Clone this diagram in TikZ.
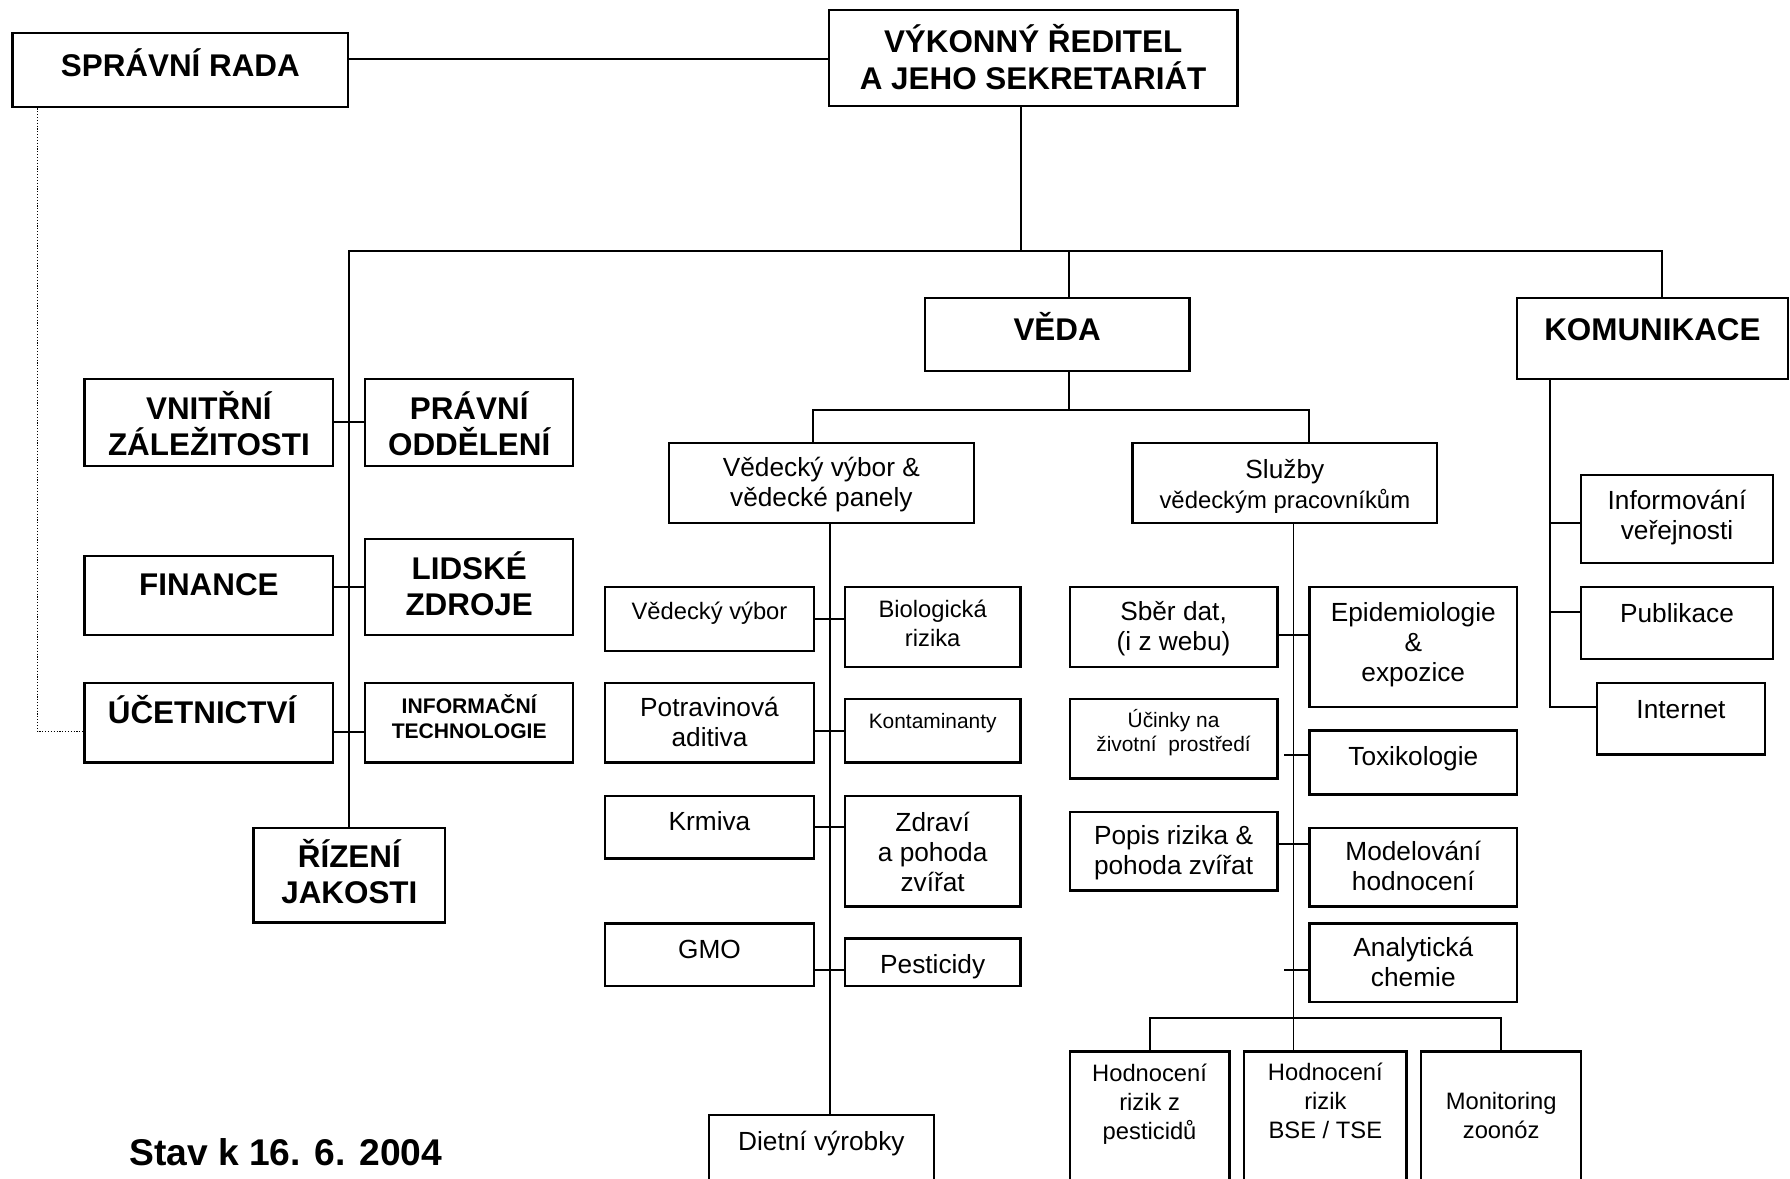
\documentclass[tikz,border=0pt]{standalone}
\usepackage{fontspec}
\setmainfont{Liberation Sans}
\tikzset{
        box/.style={draw, line width=2pt, inner sep=0pt},
        link/.style={line width=1.6pt},
        head/.style={inner sep=0pt, align=center, font=\fontsize{27.5}{32}\selectfont\bfseries},
        headsmall/.style={inner sep=0pt, align=center, font=\fontsize{18.5}{22}\selectfont\bfseries},
        txt/.style={inner sep=0pt, align=center, font=\fontsize{23}{26.3}\selectfont},
        txtsmall/.style={inner sep=0pt, align=center, font=\fontsize{20.8}{25.5}\selectfont},
        txttiny/.style={inner sep=0pt, align=center, font=\fontsize{18.3}{21}\selectfont}
    }

\begin{document}
\begin{tikzpicture}[x=1pt, y=-1pt]
            \useasboundingbox (0,0) rectangle (1568,1032);

            % vedeni
            \node [box, minimum width=294, minimum height=65] (spravni) at (158, 61.5) {};
            \node [box, minimum width=358, minimum height=84] (vykonny) at (905, 51) {};
            \node [box, minimum width=232, minimum height=64] (veda) at (926, 293) {};
            \node [box, minimum width=237, minimum height=71] (komunikace) at (1447.5, 296.5) {};
            \node [head, anchor=base] (spravni-t) at (158, 67) {SPRÁVNÍ RADA};
            \node [head] (vykonny-t) at (905, 50) {VÝKONNÝ ŘEDITEL\\A JEHO SEKRETARIÁT};
            \node [head, anchor=base] (veda-t) at (926, 298) {VĚDA};
            \node [head, anchor=base] (komunikace-t) at (1447.5, 298) {KOMUNIKACE};

            % sprava
            \node [box, minimum width=218, minimum height=76] (vnitrni) at (183, 370) {};
            \node [box, minimum width=182, minimum height=76] (pravni) at (411, 370) {};
            \node [box, minimum width=218, minimum height=69] (finance) at (183, 521.5) {};
            \node [box, minimum width=182, minimum height=84] (lidske) at (411, 514) {};
            \node [box, minimum width=218, minimum height=70] (ucetnictvi) at (183, 633) {};
            \node [box, minimum width=182, minimum height=70] (infotech) at (411, 633) {};
            \node [box, minimum width=168, minimum height=83] (rizeni) at (306, 766.5) {};
            \node [head] (vnitrni-t) at (183, 371) {VNITŘNÍ\\ZÁLEŽITOSTI};
            \node [head] (pravni-t) at (411, 371) {PRÁVNÍ\\ODDĚLENÍ};
            \node [head, anchor=base] (finance-t) at (183, 522) {FINANCE};
            \node [head] (lidske-t) at (411, 511.5) {LIDSKÉ\\ZDROJE};
            \node [head, anchor=base] (ucetnictvi-t) at (177, 633.5) {ÚČETNICTVÍ};
            \node [headsmall] (infotech-t) at (411, 627.5) {INFORMAČNÍ\\TECHNOLOGIE};
            \node [head] (rizeni-t) at (306, 763.5) {ŘÍZENÍ\\JAKOSTI};
            \node [head, anchor=base west] (stav) at (113, 1021) {\fontsize{32.6}{36}\selectfont Stav k 16. 6. 2004};

            % veda
            \node [box, minimum width=267, minimum height=70] (vvpanely) at (719.5, 423) {};
            \node [box, minimum width=267, minimum height=70] (sluzby) at (1125.5, 423) {};
            \node [txt] (vvpanely-t) at (719.5, 424.5) {Vědecký výbor \&\\vědecké panely};
            \node [txt] (sluzby-t) at (1125.5, 426) {Služby\\{\fontsize{20.9}{24}\selectfont vědeckým pracovníkům}};

            \node [box, minimum width=183, minimum height=56] (vvybor) at (621.5, 542) {};
            \node [box, minimum width=154, minimum height=70] (bio) at (817, 549) {};
            \node [box, minimum width=183, minimum height=70] (potrav) at (621.5, 633) {};
            \node [box, minimum width=154, minimum height=56] (kontam) at (817, 640) {};
            \node [box, minimum width=183, minimum height=55] (krmiva) at (621.5, 724.5) {};
            \node [box, minimum width=154, minimum height=97] (zdravi) at (817, 745.5) {};
            \node [box, minimum width=183, minimum height=55] (gmo) at (621.5, 836.5) {};
            \node [box, minimum width=154, minimum height=42] (pesticidy) at (817, 843) {};
            \node [box, minimum width=197, minimum height=83] (dietni) at (719.5, 1018.5) {};
            \node [txtsmall, anchor=base] (vvybor-t) at (621.5, 543) {Vědecký výbor};
            \node [txtsmall] (bio-t) at (817, 546) {Biologická\\rizika};
            \node [txt] (potrav-t) at (621.5, 632.5) {Potravinová\\aditiva};
            \node [txttiny, anchor=base] (kontam-t) at (817, 638.5) {Kontaminanty};
            \node [txt, anchor=base] (krmiva-t) at (621.5, 727.5) {Krmiva};
            \node [txt] (zdravi-t) at (817, 746) {Zdraví\\a pohoda\\zvířat};
            \node [txt, anchor=base] (gmo-t) at (621.5, 839.5) {GMO};
            \node [txt, anchor=base] (pesticidy-t) at (817, 852.5) {Pesticidy};
            \node [txt, anchor=base] (dietni-t) at (719.5, 1008) {Dietní výrobky};

            \node [box, minimum width=182, minimum height=70] (sber) at (1028, 549) {};
            \node [box, minimum width=182, minimum height=70] (ucinky) at (1028, 647) {};
            \node [box, minimum width=182, minimum height=69] (popis) at (1028, 745.5) {};
            \node [box, minimum width=182, minimum height=105] (epi) at (1238, 566.5) {};
            \node [box, minimum width=182, minimum height=56] (toxi) at (1238, 668) {};
            \node [box, minimum width=182, minimum height=69] (model) at (1238, 759.5) {};
            \node [box, minimum width=182, minimum height=69] (anal) at (1238, 843.5) {};
            \node [box, minimum width=140, minimum height=139] (hpest) at (1007, 990.5) {};
            \node [box, minimum width=142, minimum height=139] (hbse) at (1161, 990.5) {};
            \node [box, minimum width=140, minimum height=139] (mon) at (1315, 990.5) {};
            \node [txt] (sber-t) at (1028, 551) {Sběr dat,\\(i z webu)};
            \node [txttiny] (ucinky-t) at (1028, 642) {Účinky na\\životní\ \ prostředí};
            \node [txt] (popis-t) at (1028, 747) {Popis rizika \&\\pohoda zvířat};
            \node [txt] (epi-t) at (1238, 564.5) {Epidemiologie\\\&\\expozice};
            \node [txt, anchor=base] (toxi-t) at (1238, 670.5) {Toxikologie};
            \node [txt] (model-t) at (1238, 758.5) {Modelování\\hodnocení};
            \node [txt] (anal-t) at (1238, 842.5) {Analytická\\chemie};
            \node [txtsmall] (hpest-t) at (1007, 967.5) {Hodnocení\\rizik z\\pesticidů};
            \node [txtsmall] (hbse-t) at (1161, 964) {Hodnocení\\rizik\\BSE / TSE};
            \node [txtsmall] (mon-t) at (1315, 977) {Monitoring\\zoonóz};

            % komunikace
            \node [box, minimum width=168, minimum height=77] (info) at (1469, 454.5) {};
            \node [box, minimum width=168, minimum height=63] (publ) at (1469, 545.5) {};
            \node [box, minimum width=147, minimum height=63] (internet) at (1472.5, 629.5) {};
            \node [txt] (info-t) at (1469, 453) {Informování\\veřejnosti};
            \node [txt, anchor=base] (publ-t) at (1469, 545) {Publikace};
            \node [txt, anchor=base] (internet-t) at (1472.5, 629) {Internet};

            % spojnice
            \coordinate (busR) at (1455.5, 220);
            \coordinate (vedabus) at (936.5, 359);
            \coordinate (komtrunk) at ([xshift=-90]komunikace.south);

            \draw [link] ([yshift=9.5]spravni.east) -- ([yshift=9.5]spravni.east -| vykonny.west);
            \draw [line width=1pt, dash pattern=on 1pt off 1.5pt] ([xshift=-125]spravni.south) |- ([yshift=-8]ucetnictvi.west);
            \draw [link] ([xshift=-11]vykonny.south) -- ([xshift=-11]vykonny.south |- busR);
            \draw [link] (rizeni.north) |- (busR) -- (busR |- komunikace.north);
            \draw [link] ([xshift=10.5]veda.north) -- ([xshift=10.5]veda.north |- busR);

            \draw [link] (vnitrni.east) -- (pravni.west);
            \draw [link] (finance.east |- lidske.west) -- (lidske.west);
            \draw [link] ([yshift=-8]ucetnictvi.east) -- ([yshift=-8]infotech.west);

            \draw [link] ([xshift=10.5]veda.south) -- (vedabus);
            \draw [link] ([xshift=-7.5]vvpanely.north) |- (vedabus) -| ([xshift=21.5]sluzby.north);
            \draw [link] ([xshift=7.5]vvpanely.south) -- ([xshift=7.5]vvpanely.south |- dietni.north);
            \draw [link] (vvybor.east) -- (vvybor.east -| bio.west);
            \draw [link] (potrav.east |- kontam.west) -- (kontam.west);
            \draw [link] (krmiva.east) -- (krmiva.east -| zdravi.west);
            \draw [link] ([yshift=-13.5]gmo.east) -- ([yshift=-13.5]gmo.east -| pesticidy.west);

            \draw [link] ([xshift=7.5]sluzby.south) -- ([xshift=7.5]sluzby.south |- hbse.north);
            \draw [link] ([yshift=-7]sber.east) -- ([yshift=-7]sber.east -| epi.west);
            \draw [link] ([yshift=7]toxi.west) -- ([xshift=-21, yshift=7]toxi.west);
            \draw [link] ([yshift=6.5]popis.east) -- ([yshift=6.5]popis.east -| model.west);
            \draw [link] ([yshift=-6.5]anal.west) -- ([xshift=-21, yshift=-6.5]anal.west);
            \draw [link] (hpest.north) |- ([yshift=28]mon.north) -- (mon.north);

            \draw [link] (komtrunk) |- ([yshift=10.5]internet.west);
            \draw [link] ([yshift=-3.5]info.west) -- ([yshift=-3.5]info.west -| komtrunk);
            \draw [link] ([yshift=9.5]publ.west) -- ([yshift=9.5]publ.west -| komtrunk);
        \end{tikzpicture}
\end{document}
